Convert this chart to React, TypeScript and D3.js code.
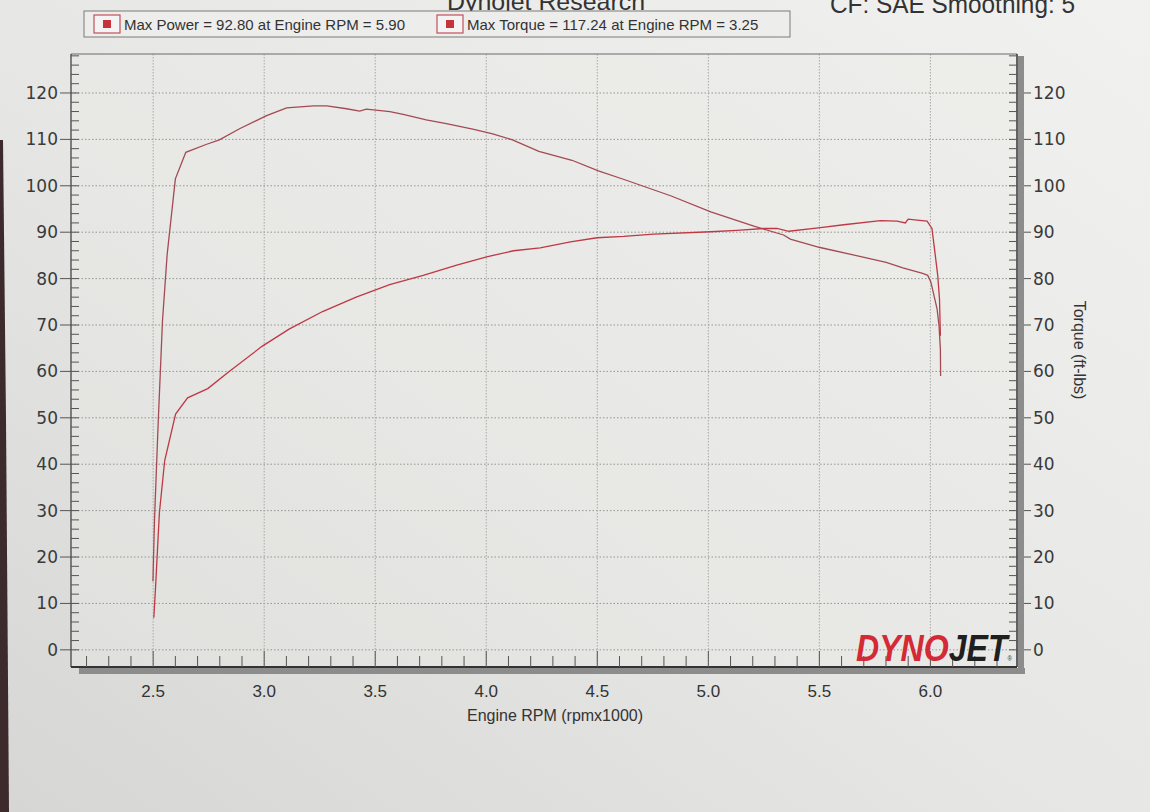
import React from 'react';
import * as d3 from 'd3';

// ---- Data read from the dyno sheet ----
const torqueRpm = [2.499, 2.506, 2.523, 2.542, 2.563, 2.600, 2.647, 2.738, 2.798, 2.889, 3.011, 3.101, 3.222, 3.250, 3.282, 3.371, 3.430, 3.460, 3.566, 3.626, 3.730, 3.820, 3.939, 4.029, 4.118, 4.237, 4.386, 4.505, 4.624, 4.833, 5.011, 5.205, 5.339, 5.369, 5.503, 5.652, 5.801, 5.876, 5.965, 5.988, 6.002, 6.016, 6.030, 6.039, 6.045, 6.046];
const torqueVal = [14.8, 28.0, 49.4, 70.9, 85.2, 101.5, 107.2, 108.9, 109.9, 112.3, 115.1, 116.8, 117.2, 117.24, 117.2, 116.6, 116.1, 116.5, 116.0, 115.4, 114.2, 113.4, 112.2, 111.2, 109.9, 107.4, 105.5, 103.2, 101.3, 97.8, 94.4, 91.3, 89.4, 88.5, 86.7, 85.1, 83.5, 82.3, 81.1, 80.7, 79.3, 76.4, 73.5, 69.8, 64.8, 59.0];

const powerRpm = [2.503, 2.511, 2.528, 2.552, 2.601, 2.655, 2.746, 2.838, 2.990, 3.112, 3.263, 3.414, 3.565, 3.716, 3.867, 4.002, 4.123, 4.243, 4.379, 4.499, 4.619, 4.754, 5.010, 5.129, 5.250, 5.309, 5.362, 5.505, 5.610, 5.775, 5.850, 5.887, 5.900, 5.940, 5.985, 6.007, 6.020, 6.033, 6.041, 6.045];
const powerVal = [6.9, 13.7, 29.5, 40.8, 50.8, 54.3, 56.3, 59.8, 65.4, 69.1, 72.9, 76.0, 78.7, 80.7, 82.9, 84.7, 86.0, 86.6, 87.9, 88.8, 89.1, 89.6, 90.1, 90.4, 90.8, 90.8, 90.2, 91.0, 91.6, 92.5, 92.4, 92.0, 92.8, 92.6, 92.4, 90.8, 85.8, 80.7, 75.6, 67.7];

const xTickValues = [2.5, 3.0, 3.5, 4.0, 4.5, 5.0, 5.5, 6.0];
const yTickValues = [0, 10, 20, 30, 40, 50, 60, 70, 80, 90, 100, 110, 120];
const legendLabels = [
  'Max Power = 92.80 at Engine RPM = 5.90',
  'Max Torque = 117.24 at Engine RPM = 3.25',
];
const xTitle = 'Engine RPM (rpmx1000)';
const yRightTitle = 'Torque (ft-lbs)';

const W = 1150;
const H = 812;
const P = { left: 71, right: 1017, top: 54, bottom: 667 };

export default function App() {
  const x = d3.scaleLinear().domain([2.13, 6.39]).range([P.left, P.right]);
  const yL = d3.scaleLinear().domain([-3.7, 128.4]).range([P.bottom, P.top]);
  const yR = d3.scaleLinear().domain([-3.7, 128.4]).range([P.bottom, P.top]);

  const minorX = d3.range(22, 64).map((i) => i / 10);
  const minorY = d3.range(0, 129, 2);

  const torqueLine = d3
    .line<number>()
    .x((_, i) => x(torqueRpm[i]))
    .y((d) => yR(d));
  const powerLine = d3
    .line<number>()
    .x((_, i) => x(powerRpm[i]))
    .y((d) => yL(d));

  const tickFont = "'DejaVu Sans', Verdana, sans-serif";
  const textFont = "'Liberation Sans', Arial, sans-serif";

  return (
    <svg
      width={W}
      height={H}
      style={{ position: 'absolute', left: 0, top: 0, display: 'block' }}
    >
      <defs>
        <linearGradient id="paper" x1="1" y1="0" x2="0" y2="1">
          <stop offset="0" stopColor="#f1f1ef" />
          <stop offset="0.55" stopColor="#e6e6e4" />
          <stop offset="1" stopColor="#d6d6d4" />
        </linearGradient>
      </defs>
      <rect x={0} y={0} width={W} height={H} fill="url(#paper)" />
      {/* dark table edge on the left */}
      <polygon points="0,140 3,140 6,420 9,812 0,812" fill="#3c2a2c" />

      {/* header texts, partly cut off at the top of the photo */}
      <text x={447} y={10} fontFamily={textFont} fontSize={24} fill="#333" textLength={198} lengthAdjust="spacingAndGlyphs">
        Dynojet Research
      </text>
      <text x={830} y={13} fontFamily={textFont} fontSize={26} fill="#333" textLength={245} lengthAdjust="spacingAndGlyphs">
        CF: SAE Smoothing: 5
      </text>

      {/* legend */}
      <g>
        <rect x={84} y={11} width={706} height={26} fill="#ededeb" stroke="#7a7a7a" strokeWidth={1} />
        {legendLabels.map((lab, i) => {
          const lx = i === 0 ? 94 : 437;
          return (
            <g key={lab}>
              <rect x={lx} y={15} width={26} height={18} fill="#f3f3f3" stroke="#c0505a" strokeWidth={1.2} />
              <rect x={lx + 9} y={20} width={8} height={8} fill="#c8323c" />
              <text x={lx + 30} y={30} fontFamily={textFont} fontSize={15} fill="#333">
                {lab}
              </text>
            </g>
          );
        })}
      </g>

      {/* plot area */}
      <rect x={P.left} y={P.top} width={P.right - P.left} height={P.bottom - P.top} fill="#ebebe9" opacity={0.35} />

      {/* gridlines */}
      {yTickValues.map((v) => (
        <line
          key={'gy' + v}
          x1={P.left}
          x2={P.right}
          y1={yL(v)}
          y2={yL(v)}
          stroke="#959595"
          strokeWidth={1}
          strokeDasharray="1.5,2"
        />
      ))}
      {xTickValues.map((v) => (
        <line
          key={'gx' + v}
          x1={x(v)}
          x2={x(v)}
          y1={P.top}
          y2={P.bottom}
          stroke="#a8a8a8"
          strokeWidth={1}
          strokeDasharray="1.5,1.5"
        />
      ))}

      {/* shadows */}
      <rect x={P.left + 8} y={P.bottom + 1} width={P.right - P.left} height={6} fill="#8c8c8c" />
      <rect x={P.right + 1} y={P.top + 2} width={6} height={P.bottom - P.top + 5} fill="#8c8c8c" />

      {/* frame */}
      <line x1={P.left} x2={P.right} y1={P.top} y2={P.top} stroke="#6a6a6a" strokeWidth={1} />
      <line x1={P.left} x2={P.left} y1={P.top} y2={P.bottom} stroke="#444" strokeWidth={1.3} />
      <line x1={P.right} x2={P.right} y1={P.top} y2={P.bottom} stroke="#333" strokeWidth={1.5} />
      <line x1={P.left} x2={P.right} y1={P.bottom} y2={P.bottom} stroke="#333" strokeWidth={1.8} />

      {/* left axis ticks */}
      {minorY.map((v) => (
        <line key={'lt' + v} x1={P.left} x2={P.left + 8} y1={yL(v)} y2={yL(v)} stroke="#555" strokeWidth={1} />
      ))}
      {yTickValues.map((v) => (
        <g key={'ly' + v}>
          <line x1={P.left - 11} x2={P.left} y1={yL(v)} y2={yL(v)} stroke="#555" strokeWidth={1} />
          <text x={P.left - 13} y={yL(v) + 6} textAnchor="end" fontFamily={tickFont} fontSize={17} fill="#3a3a3a">
            {v}
          </text>
        </g>
      ))}

      {/* right axis ticks */}
      {minorY.map((v) => (
        <line key={'rt' + v} x1={P.right - 8} x2={P.right} y1={yR(v)} y2={yR(v)} stroke="#555" strokeWidth={1} />
      ))}
      {yTickValues.map((v) => (
        <g key={'ry' + v}>
          <line x1={P.right + 7} x2={P.right + 14} y1={yR(v)} y2={yR(v)} stroke="#555" strokeWidth={1} />
          <text x={P.right + 16} y={yR(v) + 6} textAnchor="start" fontFamily={tickFont} fontSize={17} fill="#3a3a3a">
            {v}
          </text>
        </g>
      ))}

      {/* bottom axis ticks */}
      {minorX.map((v) => {
        const major = Math.abs(v * 2 - Math.round(v * 2)) < 1e-6;
        return (
          <line
            key={'bt' + v}
            x1={x(v)}
            x2={x(v)}
            y1={P.bottom}
            y2={P.bottom - (major ? 16 : 11)}
            stroke="#555"
            strokeWidth={1}
          />
        );
      })}
      {xTickValues.map((v) => (
        <text key={'bx' + v} x={x(v)} y={P.bottom + 30} textAnchor="middle" fontFamily={textFont} fontSize={17} fill="#333">
          {v.toFixed(1)}
        </text>
      ))}

      {/* titles */}
      <text x={555} y={721} textAnchor="middle" fontFamily={textFont} fontSize={16} fill="#333">
        {xTitle}
      </text>
      <text
        transform={`translate(1074, 350) rotate(90)`}
        textAnchor="middle"
        fontFamily={textFont}
        fontSize={16}
        fill="#333"
      >
        {yRightTitle}
      </text>

      {/* DYNOJET logo */}
      <text
        x={856}
        y={661}
        fontFamily={textFont}
        fontWeight={900}
        fontStyle="italic"
        fontSize={37}
        textLength={156}
        lengthAdjust="spacingAndGlyphs"
      >
        <tspan fill="#d42a35">DYNO</tspan>
        <tspan fill="#1f1f1f">JET</tspan>
        <tspan fill="#333" fontSize={7} fontStyle="normal" fontWeight={400}>®</tspan>
      </text>

      {/* curves */}
      <path d={torqueLine(torqueVal) || ''} fill="none" stroke="#a44a52" strokeWidth={1.3} />
      <path d={powerLine(powerVal) || ''} fill="none" stroke="#bf3844" strokeWidth={1.3} />
    </svg>
  );
}
